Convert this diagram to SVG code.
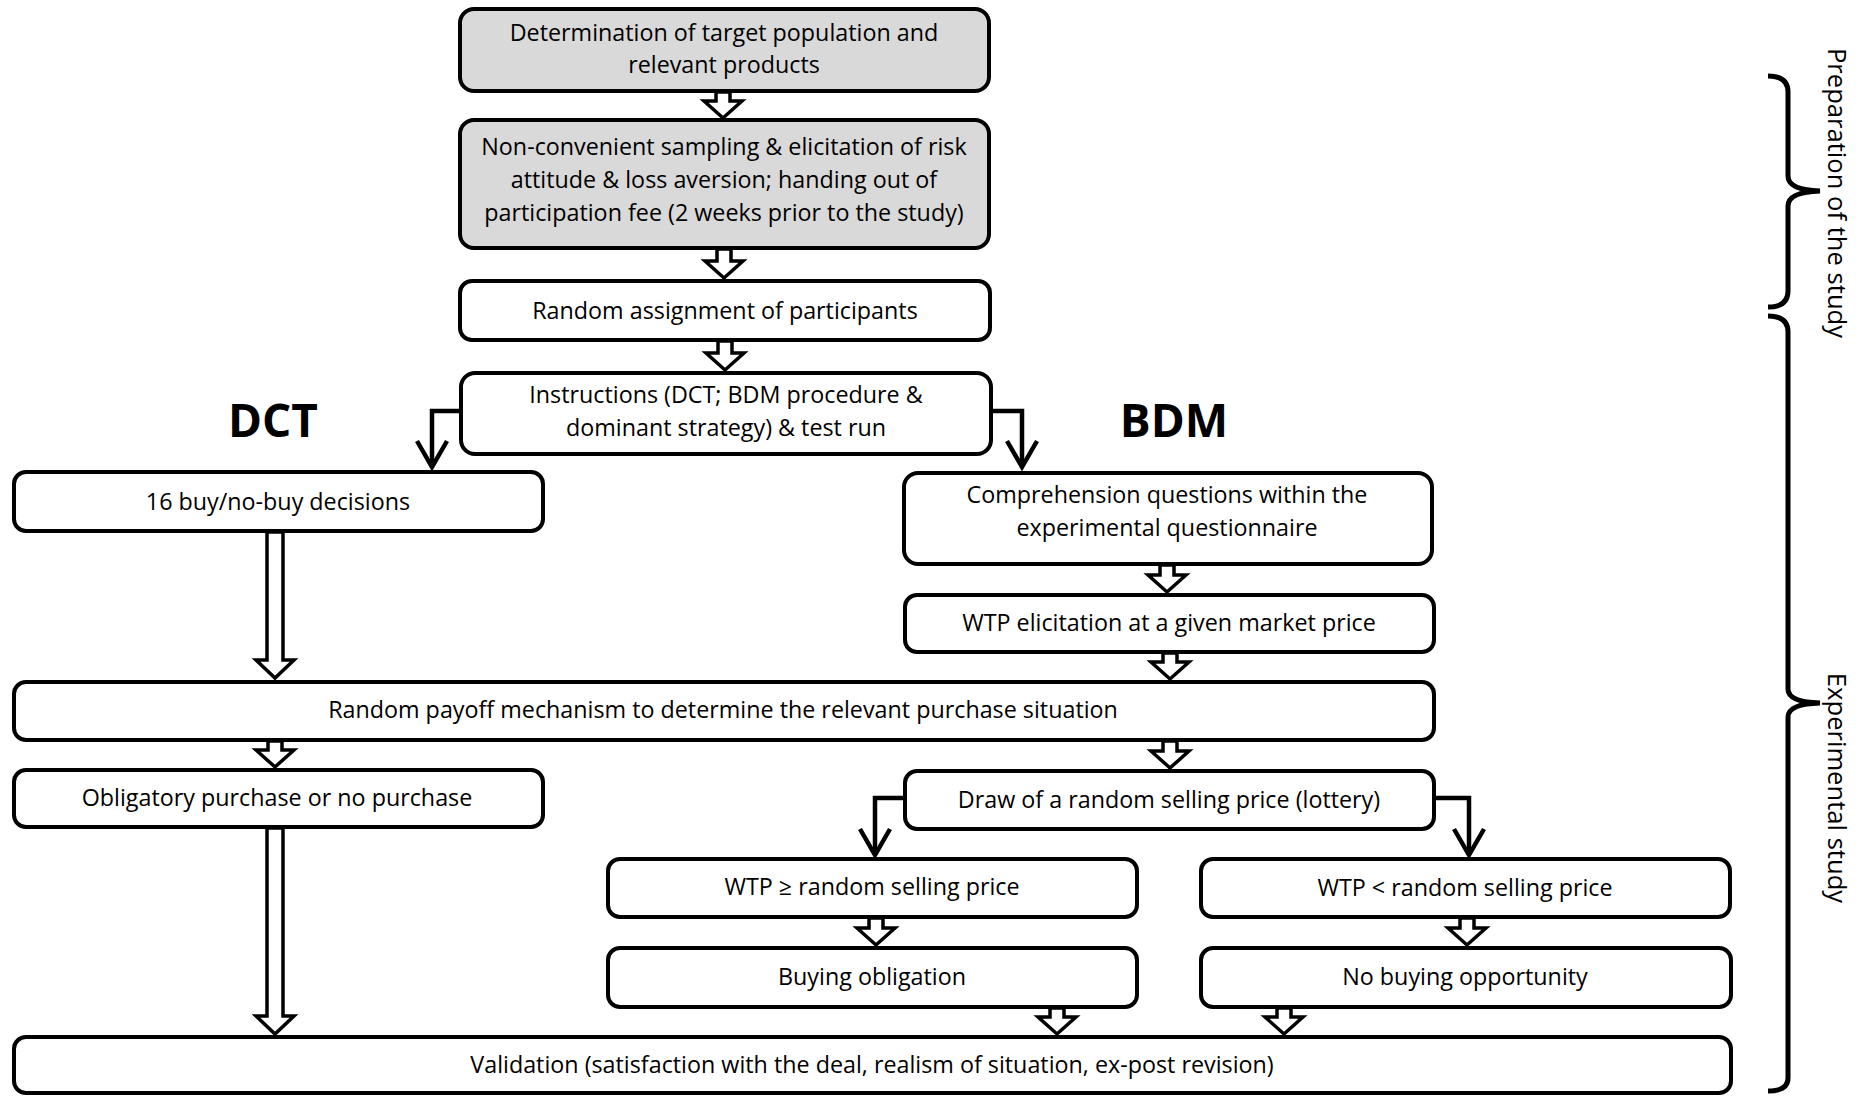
<svg xmlns="http://www.w3.org/2000/svg" width="1862" height="1096" viewBox="0 0 1862 1096">
<style>
.box{fill:#fff;stroke:#000;stroke-width:4}
.grey{fill:#d9d9d9}
.t{font-family:"Open Sans","Noto Sans",sans-serif;font-size:23.3px;fill:#000;text-anchor:middle}
.big{font-family:"Open Sans","Noto Sans",sans-serif;font-size:46px;font-weight:bold;fill:#000;text-anchor:middle}
.side{font-family:"Open Sans","Noto Sans",sans-serif;font-size:25.6px;fill:#000;text-anchor:middle}
.ha{fill:#fff;stroke:#000;stroke-width:3.5;stroke-linejoin:miter}
.el{fill:none;stroke:#000;stroke-width:4.5;stroke-linejoin:miter}
.br{fill:none;stroke:#000;stroke-width:5}
</style>
<rect width="1862" height="1096" fill="#fff"/>
<g id="n1"><rect class="box grey" x="460" y="9" width="529" height="82" rx="14"/><text class="t" x="724" y="41">Determination of target population and</text><text class="t" x="724" y="73">relevant products</text></g>
<g id="n2"><rect class="box grey" x="460" y="120" width="529" height="128" rx="14"/><text class="t" x="724" y="155">Non-convenient sampling &amp; elicitation of risk</text><text class="t" x="724" y="188">attitude &amp; loss aversion; handing out of</text><text class="t" x="724" y="221">participation fee (2 weeks prior to the study)</text></g>
<g id="n3"><rect class="box" x="460" y="281" width="530" height="59" rx="12"/><text class="t" x="725" y="319">Random assignment of participants</text></g>
<g id="n4"><rect class="box" x="461" y="373" width="530" height="81" rx="14"/><text class="t" x="726" y="403">Instructions (DCT; BDM procedure &amp;</text><text class="t" x="726" y="436">dominant strategy) &amp; test run</text></g>
<g id="lDCT"><text class="big" x="273" y="437">DCT</text></g>
<g id="lBDM"><text class="big" x="1174" y="437">BDM</text></g>
<g id="n5"><rect class="box" x="14" y="472" width="529" height="59" rx="12"/><text class="t" x="278" y="510">16 buy/no-buy decisions</text></g>
<g id="n6"><rect class="box" x="904" y="473" width="528" height="91" rx="14"/><text class="t" x="1167" y="503">Comprehension questions within the</text><text class="t" x="1167" y="536">experimental questionnaire</text></g>
<g id="n7"><rect class="box" x="905" y="595" width="529" height="57" rx="12"/><text class="t" x="1169" y="631">WTP elicitation at a given market price</text></g>
<g id="n8"><rect class="box" x="14" y="682" width="1420" height="58" rx="12"/><text class="t" x="723" y="718">Random payoff mechanism to determine the relevant purchase situation</text></g>
<g id="n9"><rect class="box" x="14" y="770" width="529" height="57" rx="12"/><text class="t" x="277" y="806">Obligatory purchase or no purchase</text></g>
<g id="n10"><rect class="box" x="905" y="771" width="529" height="58" rx="12"/><text class="t" x="1169" y="808">Draw of a random selling price (lottery)</text></g>
<g id="n11"><rect class="box" x="608" y="859" width="529" height="58" rx="12"/><text class="t" x="872" y="895">WTP ≥ random selling price</text></g>
<g id="n12"><rect class="box" x="1201" y="859" width="529" height="58" rx="12"/><text class="t" x="1465" y="896">WTP &lt; random selling price</text></g>
<g id="n13"><rect class="box" x="608" y="948" width="529" height="59" rx="12"/><text class="t" x="872" y="985">Buying obligation</text></g>
<g id="n14"><rect class="box" x="1201" y="948" width="530" height="59" rx="12"/><text class="t" x="1465" y="985">No buying opportunity</text></g>
<g id="n15"><rect class="box" x="14" y="1037" width="1717" height="56" rx="12"/><text class="t" x="872" y="1073">Validation (satisfaction with the deal, realism of situation, ex-post revision)</text></g>
<g id="connectors">
<path class="ha" d="M716,92H730V101H742L723,118L704,101H716Z"/>
<path class="ha" d="M717,249H731V261H743L724,278L705,261H717Z"/>
<path class="ha" d="M718,341H732V353H744L725,370L706,353H718Z"/>
<path class="ha" d="M1160,565H1174V575H1186L1167,592L1148,575H1160Z"/>
<path class="ha" d="M1163,653H1177V662H1189L1170,679L1151,662H1163Z"/>
<path class="ha" d="M268,741H282V750H294L275,767L256,750H268Z"/>
<path class="ha" d="M1163,741H1177V751H1189L1170,768L1151,751H1163Z"/>
<path class="ha" d="M869,918H883V928H895L876,945L857,928H869Z"/>
<path class="ha" d="M1460,918H1474V928H1486L1467,945L1448,928H1460Z"/>
<path class="ha" d="M1050,1008H1064V1017H1076L1057,1034L1038,1017H1050Z"/>
<path class="ha" d="M1277,1008H1291V1017H1303L1284,1034L1265,1017H1277Z"/>
<path class="ha" d="M267,532H283V660H294L275,678L256,660H267Z"/>
<path class="ha" d="M267,828H283V1016H294L275,1034L256,1016H267Z"/>
<path class="el" d="M461,411H432V464"/><path class="el" d="M417,441L432,467L447,441"/>
<path class="el" d="M991,411H1022V464"/><path class="el" d="M1007,441L1022,467L1037,441"/>
<path class="el" d="M905,798H875V852"/><path class="el" d="M860,829L875,855L890,829"/>
<path class="el" d="M1434,798H1469V852"/><path class="el" d="M1454,829L1469,855L1484,829"/>
</g>
<g id="braces">
<path class="br" d="M1768,76Q1788,76 1788,92V176Q1788,190 1820,191Q1788,192 1788,206V291Q1788,307 1768,307"/>
<path class="br" d="M1768,316Q1788,316 1788,332V689Q1788,702 1820,703Q1788,704 1788,717V1078Q1788,1091 1768,1091"/>
<text class="side" transform="translate(1828,193) rotate(90)">Preparation of the study</text>
<text class="side" transform="translate(1828,788) rotate(90)">Experimental study</text>
</g>
</svg>
